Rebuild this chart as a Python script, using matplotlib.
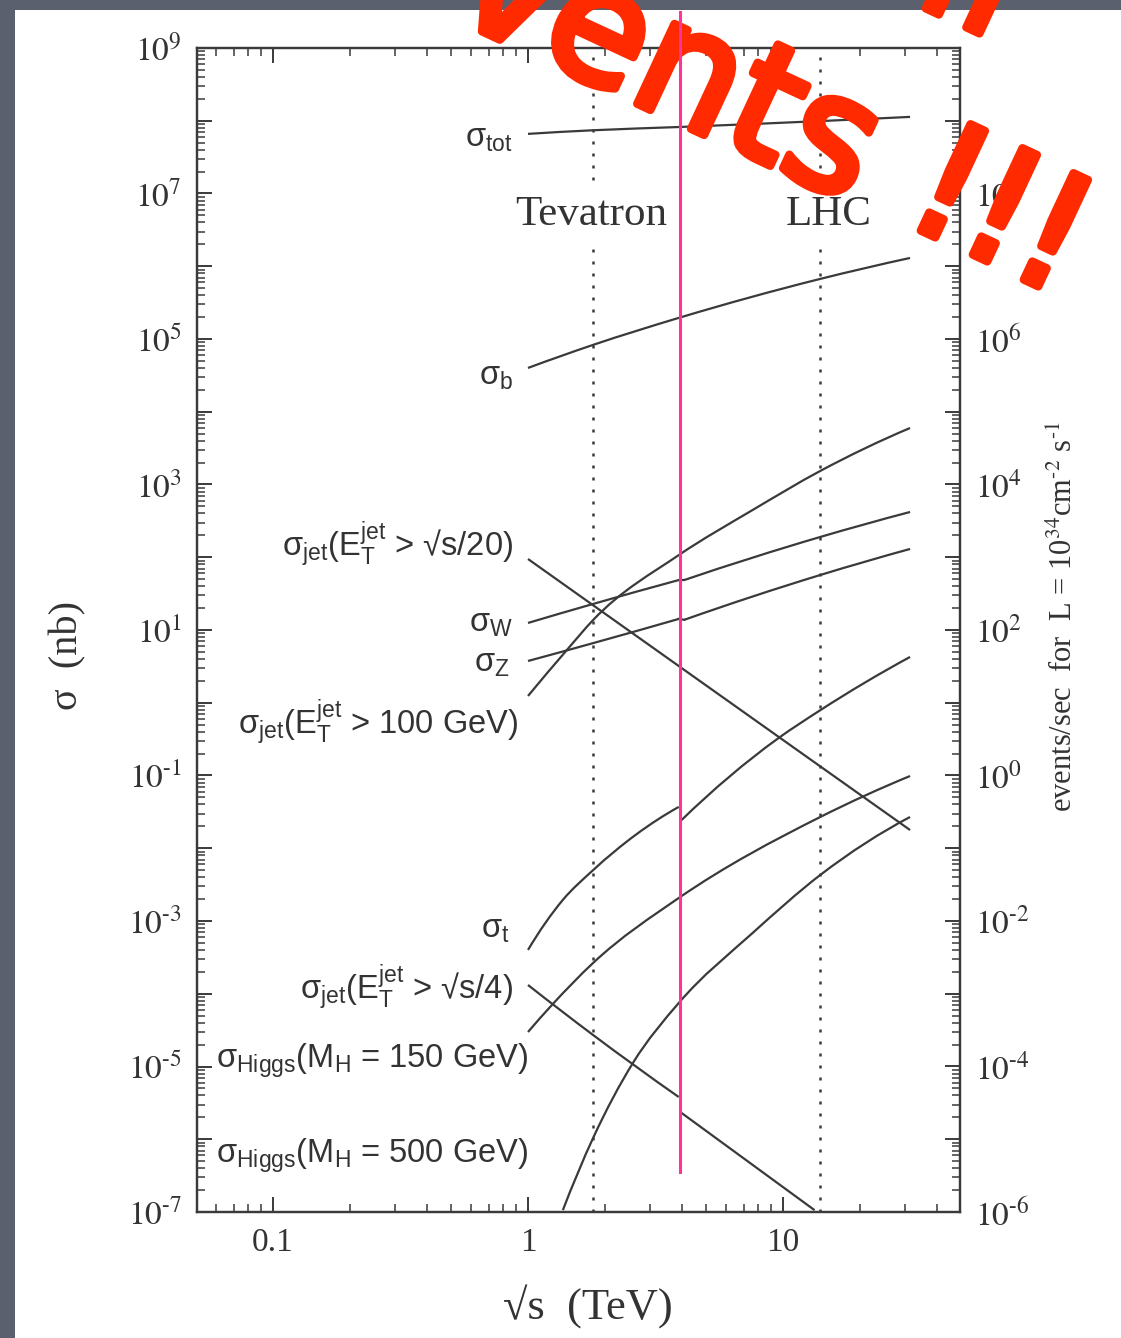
import matplotlib
matplotlib.use("Agg")
import matplotlib.pyplot as plt
import matplotlib.patheffects as pe
import numpy as np
from matplotlib.ticker import LogLocator, FuncFormatter, NullFormatter
from matplotlib.patches import Rectangle, PathPatch
from matplotlib.path import Path
from matplotlib.lines import Line2D

# ---------------- data: cross sections (nb) vs sqrt(s) (TeV) ----------------
tot_x = [1.0, 1.8, 3.9, 14.0, 31.5]
tot_y = [6.6e7, 7.4e7, 8.2e7, 9.9e7, 1.13e8]

b_x = [1.0, 1.8, 3.9, 14.0, 31.5]
b_y = [4.0e4, 8.3e4, 1.95e5, 6.7e5, 1.3e6]

jet20_x = [1.0, 3.9, 31.5]
jet20_y = [94.6, 3.2, 0.0178]

w_ppbar_x = [1.0, 1.8, 3.9]
w_ppbar_y = [12.5, 22.8, 48.6]
w_pp_x = [4.1, 14.0, 31.5]
w_pp_y = [48.6, 190.0, 419.0]

z_ppbar_x = [1.0, 1.8, 3.9]
z_ppbar_y = [3.75, 6.6, 14.2]
z_pp_x = [4.1, 14.0, 31.5]
z_pp_y = [13.8, 57.0, 130.0]

jet100_x = [1.0, 1.42, 1.8, 3.9, 7.6, 14.0, 31.5]
jet100_y = [1.24, 5.3, 13.7, 107.0, 446.0, 1535.0, 5980.0]

top_ppbar_x = [1.0, 1.37, 1.8, 3.9]
top_ppbar_y = [4.0e-4, 1.95e-3, 5.0e-3, 0.037]
top_pp_x = [4.0, 9.5, 14.0, 31.5]
top_pp_y = [0.0244, 0.318, 0.79, 4.26]

jet4_ppbar_x = [1.0, 1.8, 3.9]
jet4_ppbar_y = [1.32e-4, 2.71e-5, 3.81e-6]
jet4_pp_x = [4.0, 13.3]
jet4_pp_y = [2.30e-6, 1.06e-7]

h150_x = [1.0, 1.25, 1.8, 3.9, 14.0, 31.5]
h150_y = [2.98e-5, 7.2e-5, 2.65e-4, 2.07e-3, 0.0269, 0.0984]

h500_x = [1.37, 1.8, 2.58, 3.9, 7.6, 14.0, 31.5]
h500_y = [1.06e-7, 1.04e-6, 1.12e-5, 7.46e-5, 6.84e-4, 4.29e-3, 0.0269]

colliders = ["Tevatron", "LHC"]
collider_energy = [1.8, 14.0]
x_tick_labels = {0.1: "0.1", 1.0: "1", 10.0: "10"}

# ---------------- styling ----------------
plt.rcParams["font.family"] = ["Liberation Serif", "DejaVu Serif"]
plt.rcParams["mathtext.fontset"] = "stix"
plt.rcParams["mathtext.rm"] = "Liberation Sans"
plt.rcParams["mathtext.it"] = "Liberation Sans:italic"
plt.rcParams["mathtext.bf"] = "Liberation Sans:bold"

W, H = 1121, 1338
INK = "#3a3a3a"
fig = plt.figure(figsize=(W / 100, H / 100), dpi=100, facecolor="#5b606e")
fig.patches.append(Rectangle((15 / W, 0), 1, 1 - 10 / H, transform=fig.transFigure,
                             facecolor="white", edgecolor="none", zorder=-5))

ax = fig.add_axes([197 / W, 1 - 1212 / H, (960 - 197) / W, (1212 - 48) / H])
ax.set_xscale("log")
ax.set_yscale("log")
ax.set_xlim(10 ** (-331 / 255), 10 ** (432 / 255))
ax.set_ylim(1e-7, 1e9)
ax.patch.set_alpha(0)
for s in ax.spines.values():
    s.set_color(INK)
    s.set_linewidth(1.6)

ax.xaxis.set_major_locator(LogLocator(base=10, numticks=30))
ax.xaxis.set_minor_locator(LogLocator(base=10, subs=np.arange(2, 10), numticks=30))
ax.yaxis.set_major_locator(LogLocator(base=10, numticks=30))
ax.yaxis.set_minor_locator(LogLocator(base=10, subs=np.arange(2, 10), numticks=30))
ax.xaxis.set_minor_formatter(NullFormatter())
ax.yaxis.set_minor_formatter(NullFormatter())


def xfmt(v, pos):
    for k, t in x_tick_labels.items():
        if abs(v - k) / k < 1e-6:
            return t
    return ""


def power_label(e):
    if e < 0:
        return rf"$10^{{\text{{-}}{-e}}}$"
    return rf"$10^{{{e}}}$"


def odd_decades(v, pos):
    e = int(round(np.log10(v)))
    return power_label(e) if e % 2 else ""


def even_decades(v, pos):
    e = int(round(np.log10(v)))
    return power_label(e) if (e % 2 == 0 and e < 10) else ""


ax.xaxis.set_major_formatter(FuncFormatter(xfmt))
ax.yaxis.set_major_formatter(FuncFormatter(odd_decades))
ax.tick_params(which="major", direction="in", length=11, width=1.4, color=INK,
               top=True, right=False, labelsize=24, labelcolor="#333333", pad=11)
ax.tick_params(which="minor", direction="in", length=6, width=1.1, color=INK,
               top=True, right=False)

ax2 = ax.twinx()
ax2.set_yscale("log")
ax2.set_ylim(1e-6, 1e10)
ax2.yaxis.set_major_locator(LogLocator(base=10, numticks=30))
ax2.yaxis.set_minor_locator(LogLocator(base=10, subs=np.arange(2, 10), numticks=30))
ax2.yaxis.set_minor_formatter(NullFormatter())
ax2.yaxis.set_major_formatter(FuncFormatter(even_decades))
ax2.tick_params(which="major", direction="in", length=11, width=1.4, color=INK,
                labelsize=24, labelcolor="#333333", pad=11)
ax2.tick_params(which="minor", direction="in", length=6, width=1.1, color=INK)
for s in ax2.spines.values():
    s.set_color(INK)
    s.set_linewidth(1.6)


# ---------------- curves ----------------
def smooth_curve(xs, ys):
    """Cubic Hermite Bezier path through the points, in log-log space."""
    lx, ly = np.log10(xs), np.log10(ys)
    n = len(lx)
    if n == 2:
        return Path(10 ** np.column_stack([lx, ly]), [Path.MOVETO, Path.LINETO])
    h = np.diff(lx)
    d = np.diff(ly) / h
    m = np.empty(n)
    m[1:-1] = (h[1:] * d[:-1] + h[:-1] * d[1:]) / (h[:-1] + h[1:])
    m[0] = ((2 * h[0] + h[1]) * d[0] - h[0] * d[1]) / (h[0] + h[1])
    m[-1] = ((2 * h[-1] + h[-2]) * d[-1] - h[-1] * d[-2]) / (h[-1] + h[-2])
    verts, codes = [(lx[0], ly[0])], [Path.MOVETO]
    for i in range(n - 1):
        verts += [(lx[i] + h[i] / 3, ly[i] + m[i] * h[i] / 3),
                  (lx[i + 1] - h[i] / 3, ly[i + 1] - m[i + 1] * h[i] / 3),
                  (lx[i + 1], ly[i + 1])]
        codes += [Path.CURVE4] * 3
    return Path(10 ** np.array(verts), codes)


curve_kw = dict(facecolor="none", edgecolor=INK, lw=1.6, zorder=3)
for xs, ys in [(tot_x, tot_y), (b_x, b_y), (jet20_x, jet20_y),
               (w_ppbar_x, w_ppbar_y), (w_pp_x, w_pp_y),
               (z_ppbar_x, z_ppbar_y), (z_pp_x, z_pp_y),
               (jet100_x, jet100_y), (top_ppbar_x, top_ppbar_y),
               (top_pp_x, top_pp_y), (jet4_ppbar_x, jet4_ppbar_y),
               (jet4_pp_x, jet4_pp_y), (h150_x, h150_y), (h500_x, h500_y)]:
    ax.add_patch(PathPatch(smooth_curve(xs, ys), **curve_kw))

# short joins where the p-pbar and p-p curves meet
for a_x, a_y, b_x_, b_y_ in [(w_ppbar_x, w_ppbar_y, w_pp_x, w_pp_y),
                             (z_ppbar_x, z_ppbar_y, z_pp_x, z_pp_y)]:
    ax.plot([a_x[-1], b_x_[0]], [a_y[-1], b_y_[0]], color=INK, lw=1.6, zorder=3)

# collider energies
for name, e, lx in zip(colliders, collider_energy, [1.766, 15.1]):
    ax.axvline(e, color=INK, lw=1.8, ls=(0, (1.2, 3.6)), zorder=2)
    ax.text(lx, 5.06e6, name, ha="center", va="center", fontsize=31, color="#333333",
            zorder=4, bbox=dict(facecolor="white", edgecolor="none", pad=6))

# curve labels (sans serif)
sans = ["Liberation Sans", "DejaVu Sans"]
labels = [
    (0.873, 4.36e7, r"σ$_{\mathrm{tot}}$"),
    (0.873, 2.33e4, r"σ$_{\mathrm{b}}$"),
    (0.873, 107.0, r"σ$_{\mathrm{jet}}$(E$_{\mathrm{T}}^{\mathrm{jet}}$ > √s/20)"),
    (0.873, 9.4, r"σ$_{\mathrm{W}}$"),
    (0.850, 2.65, r"σ$_{\mathrm{Z}}$"),
    (0.914, 0.384, r"σ$_{\mathrm{jet}}$(E$_{\mathrm{T}}^{\mathrm{jet}}$ > 100 GeV)"),
    (0.850, 5.83e-4, r"σ$_{\mathrm{t}}$"),
    (0.873, 8.75e-5, r"σ$_{\mathrm{jet}}$(E$_{\mathrm{T}}^{\mathrm{jet}}$ > √s/4)"),
    (1.0, 9.8e-6, r"σ$_{\mathrm{Higgs}}$(M$_{\mathrm{H}}$ = 150 GeV)"),
    (1.0, 4.72e-7, r"σ$_{\mathrm{Higgs}}$(M$_{\mathrm{H}}$ = 500 GeV)"),
]
for x, y, t in labels:
    ax.text(x, y, t, ha="right", va="baseline", fontsize=23.5, family=sans,
            math_fontfamily="custom", color="#333333", zorder=4)

# axis titles
fig.text(68 / W, 1 - 655 / H, "σ  (nb)", rotation=90, ha="center", va="center",
         fontsize=29, color="#333333")
fig.text(588 / W, 1 - 1307 / H, "√s  (TeV)", ha="center", va="center",
         fontsize=32, color="#333333")
fig.text(1063 / W, 1 - 617 / H,
         r"events/sec  for  L = 10$^{34}$cm$^{\text{-}2}$ s$^{\text{-}1}$",
         rotation=90, ha="center", va="center", fontsize=22, color="#333333")

# slide annotation
red = "#ff2a00"
fx = dict(rotation=-25, rotation_mode="anchor", fontsize=116, fontweight="normal",
          family="DejaVu Sans", color=red, zorder=25,
          path_effects=[pe.withStroke(linewidth=6, foreground=red,
                                      capstyle="round", joinstyle="round")])
fig.text(850 / W, 1 - 203 / H, "vents", ha="right", va="baseline", **fx)
for px, py in [(928, 234), (980, 258), (1031, 283)]:
    fig.text(px / W, 1 - py / H, "!", ha="center", va="baseline", **fx)
fig.text(912 / W, 1 - 2 / H, "ll", ha="left", va="baseline", **fx)

# highlighted energy, drawn over everything else
e_mark = 3.95
fig.add_artist(Line2D([e_mark, e_mark], [3.55e-7, 3.13e9], transform=ax.transData,
                      color="#ff3399", lw=2.2, zorder=30))

fig.savefig("out.png", dpi=100, facecolor=fig.get_facecolor())
